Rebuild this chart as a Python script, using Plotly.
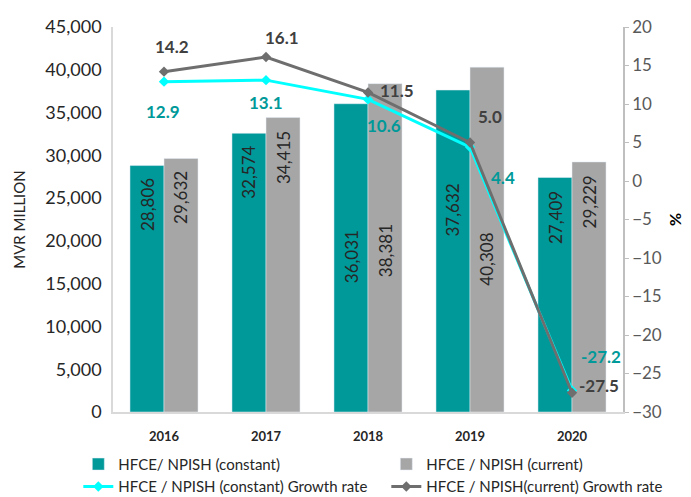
import plotly.graph_objects as go

years = ["2016", "2017", "2018", "2019", "2020"]
hfce_constant = [28806, 32574, 36031, 37632, 27409]
hfce_current = [29632, 34415, 38381, 40308, 29229]
growth_constant = [12.9, 13.1, 10.6, 4.4, -27.2]
growth_current = [14.2, 16.1, 11.5, 5.0, -27.5]

TEAL = "#009999"
GREY_BAR = "#A6A6A6"
CYAN = "#00FFFF"
GREY_LINE = "#6E6E6E"
FONT = "Lato"

fig = go.Figure()

fig.add_trace(go.Bar(x=years, y=hfce_constant, name="HFCE/ NPISH (constant)",
                     marker_color=TEAL))
fig.add_trace(go.Bar(x=years, y=hfce_current, name="HFCE / NPISH (current)",
                     marker_color=GREY_BAR))
fig.add_trace(go.Scatter(x=years, y=growth_constant, yaxis="y2",
                         name="HFCE / NPISH (constant) Growth rate",
                         mode="lines+markers",
                         line=dict(color=CYAN, width=3),
                         marker=dict(symbol="diamond", size=8, color=CYAN)))
fig.add_trace(go.Scatter(x=years, y=growth_current, yaxis="y2",
                         name="HFCE / NPISH(current) Growth rate",
                         mode="lines+markers",
                         line=dict(color=GREY_LINE, width=3),
                         marker=dict(symbol="diamond", size=8, color=GREY_LINE)))

# bar value labels (rotated, pushed down from the bar top by a pixel gap)
# annotation x uses the category index: "2016" would be read as index 2016
const_gap = [11, 11, 125, 92, 12]
curr_gap = [11, 12, 139, 164, 12]
annotations = []
for i, yr in enumerate(years):
    for val, gap, dx in ((hfce_constant[i], const_gap[i], -17), (hfce_current[i], curr_gap[i], 17)):
        annotations.append(dict(x=i, y=val, xref="x", yref="y", text=f"{val:,}",
                                textangle=-90, showarrow=False, xshift=dx,
                                yanchor="top", yshift=-gap,
                                font=dict(family=FONT, size=17, color="#262626")))

# growth labels
curr_off = [(8, 25), (16, 20), (29, 2), (20, 26), (27, 7)]
const_off = [(-1, -30), (0, -22), (16, -26), (33, -30), (29, 34)]
for i, yr in enumerate(years):
    dx, dy = curr_off[i]
    annotations.append(dict(x=i, y=growth_current[i], xref="x", yref="y2",
                            text=f"{growth_current[i]:.1f}", showarrow=False,
                            xshift=dx, yshift=dy,
                            font=dict(family=FONT, size=17, color="#404040", weight="bold")))
    dx, dy = const_off[i]
    annotations.append(dict(x=i, y=growth_constant[i], xref="x", yref="y2",
                            text=f"{growth_constant[i]:.1f}", showarrow=False,
                            xshift=dx, yshift=dy,
                            font=dict(family=FONT, size=17, color=TEAL, weight="bold")))

# page body has an 8px margin, so the figure is sized to fit inside the window
fig.update_layout(
    width=683, height=489,
    margin=dict(l=105, r=68, t=19, b=85, autoexpand=False),
    plot_bgcolor="white", paper_bgcolor="white",
    font=dict(family=FONT, color="#262626"),
    barmode="group", bargap=0.333, bargroupgap=0,
    xaxis=dict(type="category", showgrid=False, showline=True, linecolor="#D9D9D9", linewidth=1.5,
               tickfont=dict(size=13, color="#262626", weight="bold"), ticks="",
               ticklabelstandoff=12),
    yaxis=dict(range=[0, 45000], dtick=5000, tickformat=",", showgrid=False,
               showline=True, linecolor="#D9D9D9", linewidth=1.5, zeroline=False,
               tickfont=dict(size=18, color="#262626"), ticklabelstandoff=6,
               title=dict(text="MVR MILLION", font=dict(size=15, color="#262626"), standoff=16)),
    yaxis2=dict(range=[-30, 20], dtick=5, overlaying="y", side="right",
                showgrid=False, showline=True, linecolor="#BFBFBF", linewidth=1.5,
                zeroline=False, ticks="outside", ticklen=4, tickcolor="#BFBFBF",
                tickfont=dict(size=17, color="#595959"),
                title=dict(text="%", font=dict(size=16, color="#000000", weight="bold"), standoff=9)),
    legend=dict(orientation="h", x=-0.068, y=-0.093, xanchor="left", yanchor="top",
                entrywidth=263, entrywidthmode="pixels", traceorder="normal",
                font=dict(size=15, color="#262626"), itemwidth=30, tracegroupgap=0),
    annotations=annotations,
)

fig.write_html("out.html")
